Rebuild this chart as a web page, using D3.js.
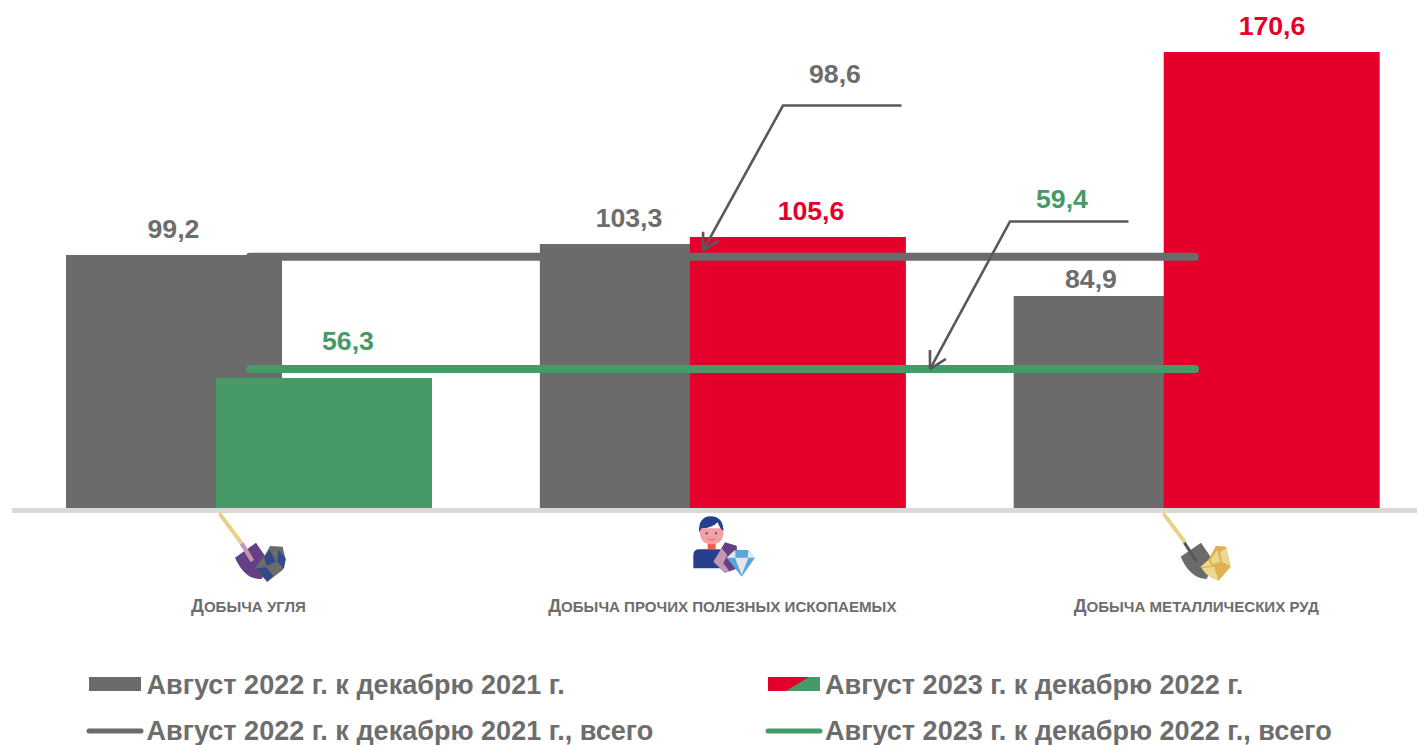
<!DOCTYPE html>
<html><head><meta charset="utf-8">
<script src="https://cdn.jsdelivr.net/npm/d3@7"></script>
<style>html,body{margin:0;background:#fff}svg{display:block}text{font-family:"Liberation Sans",Arial,sans-serif;font-weight:700}</style>
</head><body><svg id="c" width="1417" height="745"></svg>
<script>
const categories = ["Добыча угля","Добыча прочих полезных ископаемых","Добыча металлических руд"];
const series2022 = [99.2,103.3,84.9];
const series2023 = [56.3,105.6,170.6];
const total2022 = 98.6;
const total2023 = 59.4;
const valueTexts2022 = ["99,2","103,3","84,9"];
const valueTexts2023 = ["56,3","105,6","170,6"];
const totalText2022 = "98,6";
const totalText2023 = "59,4";
const legendLabels = ["Август 2022 г. к декабрю 2021 г.","Август 2023 г. к декабрю 2022 г.","Август 2022 г. к декабрю 2021 г., всего","Август 2023 г. к декабрю 2022 г., всего"];

const GREY="#6b6b6b",RED="#e4002b",GREEN="#459a67",TXT="#6d6d6d",LEAD="#595959";
const svg=d3.select("#c");
// the source's bars are hand-placed, so the value axis is piecewise through them
const y=d3.scaleLinear().domain([0,56.3,84.9,99.2,103.3,105.6,170.6]).range([508,378,296,255,244,237,52]);
const xGroup=d3.scalePoint().domain(categories).range([249,1196.7]);
const xSeries=d3.scalePoint().domain(["a","b"]).range([-75,75]);
const BW=216;

// bars
const barColors2023=[GREEN,RED,RED];
svg.append("g").selectAll("rect").data(categories).join("rect")
 .attr("x",d=>xGroup(d)+xSeries("a")-BW/2).attr("width",BW)
 .attr("y",(d,i)=>y(series2022[i])).attr("height",(d,i)=>y(0)-y(series2022[i])).attr("fill",GREY);
svg.append("g").selectAll("rect").data(categories).join("rect")
 .attr("x",d=>xGroup(d)+xSeries("b")-BW/2).attr("width",BW)
 .attr("y",(d,i)=>y(series2023[i])).attr("height",(d,i)=>y(0)-y(series2023[i])).attr("fill",(d,i)=>barColors2023[i]);

// baseline
svg.append("rect").attr("x",12).attr("width",1405).attr("y",y(0)).attr("height",5).attr("fill","#d9d9d9");

// total lines
const lineX=[246,1199];
[[total2022,GREY],[total2023,GREEN]].forEach(([v,c])=>{
 svg.append("line").attr("x1",lineX[0]+4).attr("x2",lineX[1]-4).attr("y1",y(v)).attr("y2",y(v))
  .attr("stroke",c).attr("stroke-width",8).attr("stroke-linecap","round");
});

// leader arrows
function leader(x0,x1,x2,yTop,yTip){
 svg.append("path").attr("d",`M${x0},${yTop}H${x1}L${x2},${yTip}`).attr("fill","none").attr("stroke",LEAD).attr("stroke-width",2.6);
 const a=Math.atan2(yTip-yTop,x2-x1),L=19;
 [0.5,-0.5].forEach(s=>{
  svg.append("line").attr("x1",x2).attr("y1",yTip)
   .attr("x2",x2-L*Math.cos(a+s)).attr("y2",yTip-L*Math.sin(a+s))
   .attr("stroke",LEAD).attr("stroke-width",2.6);
 });
}
leader(901.5,783,703,105.5,y(total2022)-6);
leader(1128.5,1010,930,221.5,y(total2023));

// value labels
function lab(t,x,yy,c){svg.append("text").attr("x",x).attr("y",yy).attr("text-anchor","middle").attr("font-size",26.67).attr("fill",c).text(t);}
const labelX2022=[173.5,629,1091], labelX2023=[348,811,1272];
const labelGap2022=[17.5,17.5,8.5], labelGap2023=[28.5,17.5,17.5];
series2022.forEach((v,i)=>lab(valueTexts2022[i],labelX2022[i],y(v)-labelGap2022[i],TXT));
series2023.forEach((v,i)=>lab(valueTexts2023[i],labelX2023[i],y(v)-labelGap2023[i],barColors2023[i]));
lab(totalText2022,835,82.5,TXT);
lab(totalText2023,1062,207.5,GREEN);

// category labels: enlarged first letter, the rest in small capitals
const catText=svg.append("g").selectAll("text").data(categories).join("text")
 .attr("x",d=>xGroup(d)-0.5).attr("y",612).attr("text-anchor","middle").attr("fill",TXT);
catText.append("tspan").attr("font-size",18).text(d=>d[0].toUpperCase());
catText.append("tspan").attr("font-size",15.1).text(d=>d.slice(1).toUpperCase());

// icons, drawn in 3x crop coordinates
function icon(ox,oy,shapes){
 const g=svg.append("g").attr("transform",`translate(${ox},${oy}) scale(${1/3})`);
 shapes.forEach(s=>{
  const p=g.append("path").attr("d",s[0]).attr("fill",s[2]?"none":s[1]);
  if(s[2]) p.attr("stroke",s[1]).attr("stroke-width",s[2]);
 });
}
const Y="#e8d084",NAVY="#324a86",PUR="#653f85",PINK="#c596b4",GOLD="#dfb24f",PALE="#ecd78f";
icon(190,505,[
 ["M88,25L155,115",Y,12],
 ["M135,158L198,113L240,175L215,222Q165,225 135,158Z",PUR],
 ["M155,115L187,168",PINK,13],
 ["M240,123L278,125L287,165L278,195L232,230L195,190L225,150Z",GREY],
 ["M222,155L240,135L258,170L230,182Z",NAVY],
 ["M265,135L287,160L282,192L262,170Z",NAVY],
 ["M197,190L228,187L250,212L232,230Z",NAVY]
]);
icon(670,505,[
 ["M70,190V150Q70,133 88,133H145Q160,133 160,150V190Z","#27408b"],
 ["M113,115H137V132H113Z","#ef5b5b"],
 ["M90,70H160V85Q158,118 125,118Q92,118 90,85Z","#f4a0a4"],
 ["M87,82Q85,35 122,34Q160,35 160,78Q150,72 143,52Q125,70 95,70Q92,75 87,82Z","#27408b"],
 ["M110,82a3,3 0 1,0 .1,0Z","#27408b"],
 ["M138,82a3,3 0 1,0 .1,0Z","#27408b"],
 ["M113,100Q124,110 136,100","#e8505b",2.5],
 ["M130,170L165,112L200,122L205,190L165,203Z",PUR],
 ["M130,170L155,130L172,150L160,175L178,198L165,203Z",PINK],
 ["M170,158L195,135H235L255,158L215,215Z","#58a6dc"],
 ["M195,135L170,158H197Z","#e3e6ea"],
 ["M235,135L255,158H233Z","#e3e6ea"],
 ["M195,158H235L215,210Z","#e3e6ea"]
]);
icon(1140,505,[
 ["M70,25L135,112",Y,12],
 ["M122,155L183,113L222,170L200,222Q150,220 122,155Z",GREY],
 ["M133,113L170,170",LEAD,9],
 ["M228,122L258,125L272,185L235,228L182,187L205,165Z",GOLD],
 ["M180,187L205,165L214,182Z",PALE],
 ["M185,190L222,185L235,225Q205,222 185,190Z",PALE],
 ["M240,140L260,130L270,183L245,170Z",PALE],
 ["M212,165L232,135L240,170L218,178Z",PALE]
]);

// legend
const legX=[146.5,825], legY=[694,740];
legendLabels.forEach((t,i)=>{
 svg.append("text").attr("x",legX[i%2]).attr("y",legY[i>>1]).attr("font-size",27.05).attr("fill",TXT).text(t);
});
svg.append("rect").attr("x",89).attr("y",677).attr("width",52).attr("height",14).attr("fill",GREY);
svg.append("rect").attr("x",768).attr("y",677).attr("width",52).attr("height",14).attr("fill",RED);
svg.append("path").attr("d","M809,677H820V691H786Z").attr("fill",GREEN);
svg.append("line").attr("x1",89).attr("x2",141).attr("y1",731).attr("y2",731).attr("stroke",GREY).attr("stroke-width",5).attr("stroke-linecap","round");
svg.append("line").attr("x1",768).attr("x2",820).attr("y1",731).attr("y2",731).attr("stroke",GREEN).attr("stroke-width",5).attr("stroke-linecap","round");
</script></body></html>
